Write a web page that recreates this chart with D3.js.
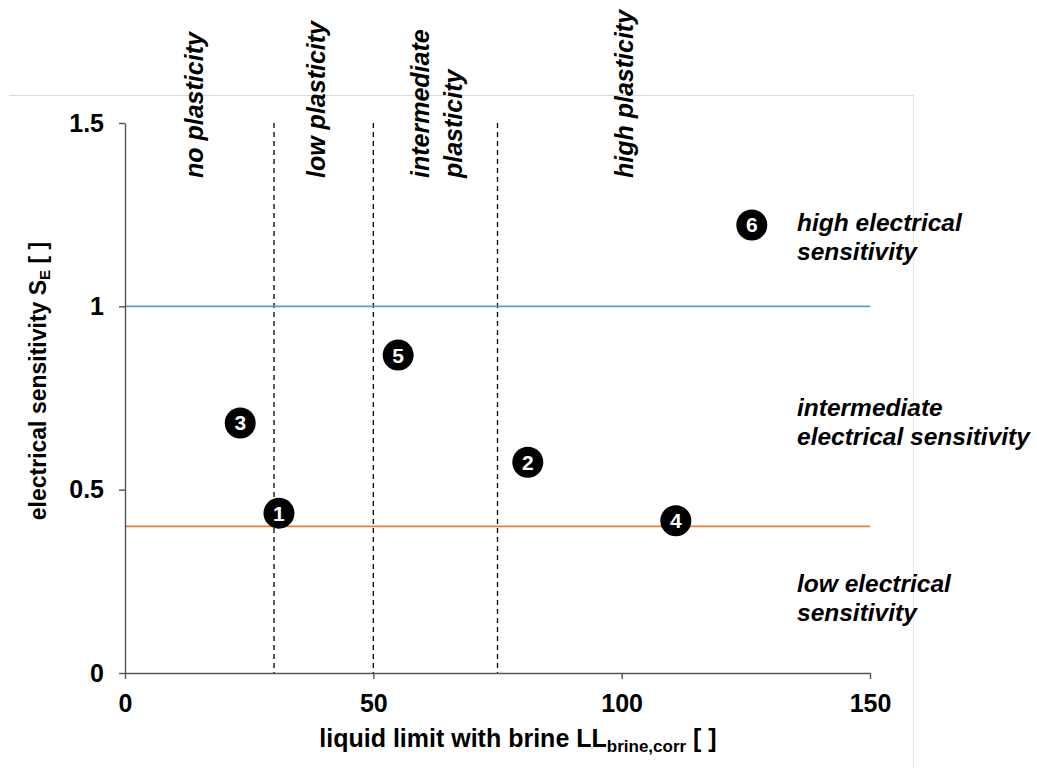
<!DOCTYPE html>
<html>
<head>
<meta charset="utf-8">
<script src="https://cdn.jsdelivr.net/npm/d3@7"></script>
<style>
  html, body { margin: 0; padding: 0; background: #fff; }
  svg { display: block; font-family: "Liberation Sans", Arial, sans-serif; }
</style>
</head>
<body>
<svg id="chart" width="1037" height="768"></svg>
<script>
// ---- data ----
const sampleIds = ["1", "2", "3", "4", "5", "6"];
const liquidLimit = [31.0, 81.1, 23.2, 110.9, 55.0, 126.2];
const sensitivity = [0.436, 0.575, 0.682, 0.415, 0.867, 1.222];
const xTicks = [0, 50, 100, 150];
const yTicks = [0, 0.5, 1, 1.5];
const plasticityBounds = [30, 50, 75];
const sensitivityThresholds = [1, 0.4];
const plasticityLabels = [["no plasticity"], ["low plasticity"], ["intermediate", "plasticity"], ["high plasticity"]];
const plasticityLabelAt = [15.8, 40.2, 64.5, 102.3];
const sensitivityLabels = [["high electrical", "sensitivity"], ["intermediate", "electrical sensitivity"], ["low electrical", "sensitivity"]];
const sensitivityLabelAt = [1.205, 0.70, 0.22];

// ---- layout ----
const svg = d3.select("#chart");
const L = 125, R = 870, T = 123, B = 673;
const x = d3.scaleLinear().domain([0, 150]).range([L, R]);
const y = d3.scaleLinear().domain([0, 1.5]).range([B, T]);
const axisColor = "#555555";

// light frame
svg.append("line").attr("x1", 9).attr("x2", 913).attr("y1", 95.5).attr("y2", 95.5)
  .attr("stroke", "#d9d9d9").attr("stroke-width", 1);
svg.append("line").attr("x1", 913.5).attr("x2", 913.5).attr("y1", 95).attr("y2", 768)
  .attr("stroke", "#e6e6e6").attr("stroke-width", 1);

// vertical dashed boundaries
svg.append("g").selectAll("line").data(plasticityBounds).join("line")
  .attr("x1", d => x(d)).attr("x2", d => x(d))
  .attr("y1", y(1.5)).attr("y2", y(0))
  .attr("stroke", "#000").attr("stroke-width", 1.3).attr("stroke-dasharray", "5,4");

// threshold lines
const thrColors = ["#5b9bd5", "#ed7d31"];
svg.append("g").selectAll("line").data(sensitivityThresholds).join("line")
  .attr("x1", x(0)).attr("x2", x(150))
  .attr("y1", d => y(d)).attr("y2", d => y(d))
  .attr("stroke", (d, i) => thrColors[i]).attr("stroke-width", 1.8);

// axes
const fontSize = 25;
const yAxis = svg.append("g").attr("transform", `translate(${L},0)`)
  .call(d3.axisLeft(y).tickValues(yTicks).tickSize(6).tickPadding(15).tickSizeOuter(0).tickFormat(d => d));
const xAxis = svg.append("g").attr("transform", `translate(0,${B})`)
  .call(d3.axisBottom(x).tickValues(xTicks).tickSize(6).tickPadding(15).tickSizeOuter(0));
[xAxis, yAxis].forEach(g => {
  g.select(".domain").attr("stroke", axisColor).attr("stroke-width", 1.4);
  g.selectAll(".tick line").attr("stroke", axisColor).attr("stroke-width", 1.4);
  g.selectAll(".tick text").attr("fill", "#000").attr("font-size", fontSize)
    .attr("font-weight", "bold").attr("font-family", "Liberation Sans, Arial, sans-serif");
});

// axis titles
const xt = svg.append("text").attr("x", 518).attr("y", 747).attr("text-anchor", "middle")
  .attr("font-size", 25).attr("font-weight", "bold").attr("fill", "#000");
xt.append("tspan").text("liquid limit with brine LL");
xt.append("tspan").attr("font-size", 17).attr("dy", 5).text("brine,corr");
xt.append("tspan").attr("dy", -5).text(" [ ]");

const yt = svg.append("text").attr("transform", `translate(46,381) rotate(-90)`)
  .attr("text-anchor", "middle").attr("font-size", 23).attr("font-weight", "bold").attr("fill", "#000");
yt.append("tspan").text("electrical sensitivity S");
yt.append("tspan").attr("font-size", 15).attr("dy", 4).text("E");
yt.append("tspan").attr("dy", -4).text(" [ ]");

// plasticity labels (rotated)
plasticityLabels.forEach((lines, i) => {
  lines.forEach((s, j) => {
    const bx = x(plasticityLabelAt[i]) + (lines.length > 1 ? (j - 0.5) * 33 : 0);
    svg.append("text").attr("transform", `translate(${bx},178) rotate(-90)`)
      .attr("font-size", 25).attr("font-weight", "bold").attr("font-style", "italic")
      .attr("fill", "#000").text(s);
  });
});

// sensitivity labels (right)
sensitivityLabels.forEach((lines, i) => {
  const t = svg.append("text").attr("x", 797).attr("y", y(sensitivityLabelAt[i]))
    .attr("font-size", 24.5).attr("font-weight", "bold").attr("font-style", "italic").attr("fill", "#000");
  lines.forEach((s, j) => t.append("tspan").attr("x", 797).attr("dy", j === 0 ? 0 : 29).text(s));
});

// points
const pts = sampleIds.map((id, i) => ({ id, ll: liquidLimit[i], se: sensitivity[i] }));
const g = svg.append("g").selectAll("g").data(pts).join("g")
  .attr("transform", d => `translate(${x(d.ll)},${y(d.se)})`);
g.append("circle").attr("r", 15.5).attr("fill", "#000");
g.append("text").attr("text-anchor", "middle").attr("dy", "0.36em")
  .attr("font-size", 21).attr("font-weight", "bold").attr("fill", "#fff").text(d => d.id);
</script>
</body>
</html>
